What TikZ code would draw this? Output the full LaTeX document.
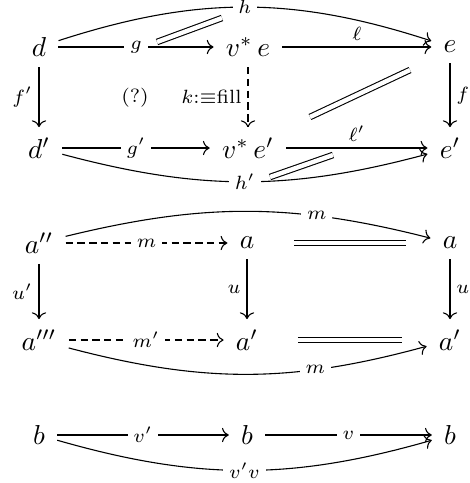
\documentclass[tikz,border=0pt]{standalone}
\usepackage{amsmath,amssymb}
\usetikzlibrary{arrows.meta}
\tikzset{
  obj/.style={inner xsep=1ex, inner ysep=0.85ex},
  arr/.style={-{Computer Modern Rightarrow}, line width=0.4pt},
  dsh/.style={dash pattern=on 2.7pt off 1.6pt},
  eqcell/.style={double, double distance=1.6pt, line width=0.4pt},
  lbl/.style={font=\scriptsize, inner sep=0.5ex},
  desc/.style={lbl, fill=white, anchor=center},
}

\begin{document}
\begin{tikzpicture}[x=0.365pt,y=-0.365pt]
  \useasboundingbox (0,0) rectangle (470,483);
  % first square
  \node[obj] (d)   at (39,47)   {$d$};
  \node[obj] (ve)  at (248,47)  {$v^*\,e$};
  \node[obj] (e)   at (450,47)  {$e$};
  \node[obj] (d1)  at (39,148)  {$d'$};
  \node[obj] (ve1) at (248,148) {$v^*\,e'$};
  \node[obj] (e1)  at (450,148) {$e'$};
  \node (q) at (135,98) {\scriptsize (?)};

  \draw[arr] (d) -- node[desc] {$g$} (ve);
  \draw[arr] (ve) -- node[lbl,above] {$\ell$} (e);
  \draw[arr] (d) to[bend left=18] node[desc] {$h$} (e);
  \draw[arr] (d) -- node[lbl,left] {$f'$} (d1);
  \draw[arr,dsh] (ve) -- node[lbl,left] {$k{:}{\equiv}\mathrm{fill}$} (ve1);
  \draw[arr] (e) -- node[lbl,right] {$f$} (e1);
  \draw[arr] (d1) -- node[desc] {$g'$} (ve1);
  \draw[arr] (ve1) -- node[lbl,above] {$\ell'$} (e1);
  \draw[arr] (d1) to[bend right=15] node[desc] {$h'$} (e1);

  % 2-cells
  \coordinate (s1) at (157,42);  \coordinate (t1) at (222,18);
  \coordinate (s2) at (310,117); \coordinate (t2) at (410,70);
  \coordinate (s3) at (270,177); \coordinate (t3) at (333,155);
  \foreach \i in {1,2,3}
    \draw[eqcell] (s\i) -- (t\i);

  % second square
  \node[obj] (a2) at (39,243)  {$a''$};
  \node[obj] (a)  at (247,243) {$a$};
  \node[obj] (ar) at (450,243) {$a$};
  \node[obj] (a3) at (39,340)  {$a'''$};
  \node[obj] (ap) at (247,340) {$a'$};
  \node[obj] (apr) at (450,340) {$a'$};

  \draw[arr,dsh] (a2) -- node[desc] {$m$} (a);
  \draw[eqcell, shorten <=10pt, shorten >=9pt] (a) -- (ar);
  \draw[arr] (a2) to[bend left=14] node[desc,pos=0.7] {$m$} (ar);
  \draw[arr] (a2) -- node[lbl,left] {$u'$} (a3);
  \draw[arr] (a) -- node[lbl,left] {$u$} (ap);
  \draw[arr] (ar) -- node[lbl,right] {$u$} (apr);
  \draw[arr,dsh] (a3) -- node[desc] {$m'$} (ap);
  \draw[eqcell, shorten <=10pt, shorten >=9pt] (ap) -- (apr);
  \draw[arr] (a3) to[bend right=15] node[desc,pos=0.7] {$m$} (apr);

  % bottom row
  \foreach \n/\x in {b1/39,b2/247,b3/450}
    \node[obj] (\n) at (\x,435) {$b$};
  \draw[arr] (b1) -- node[desc] {$v'$} (b2);
  \draw[arr] (b2) -- node[desc] {$v$} (b3);
  \draw[arr] (b1) to[bend right=16] node[desc] {$v'v$} (b3);
\end{tikzpicture}
\end{document}
